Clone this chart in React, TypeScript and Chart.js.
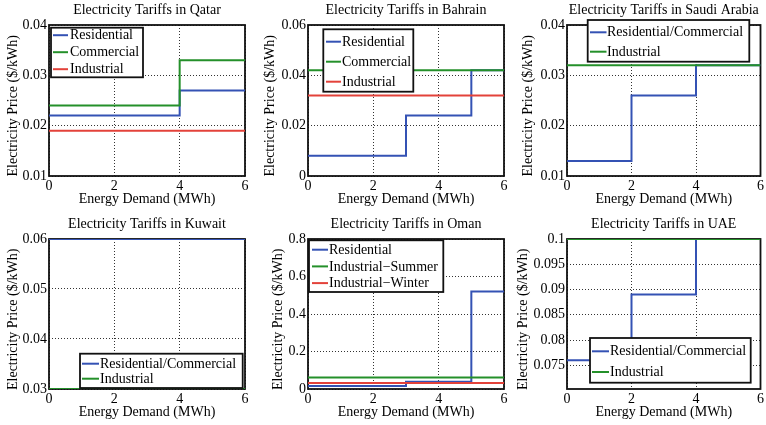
import { useEffect, useRef } from "react";
import { Chart, registerables } from "chart.js";

Chart.register(...registerables);

const FONT_FAMILY = '"Liberation Serif", "Times New Roman", serif';
const BLUE = "#3452b4";
const GREEN = "#24902a";
const RED = "#e3423a";
const GRID = "#333333";

const xTicks = [0, 2, 4, 6];
const flatDemand = [0, 6];

// Qatar
const qatarDemand = [0, 4, 6];
const qatarResidential = [0.022, 0.027, 0.027];
const qatarCommercial = [0.024, 0.033, 0.033];
const qatarIndustrial = [0.019, 0.019];
const qatarYTicks = [0.01, 0.02, 0.03, 0.04];

// Bahrain
const bahrainDemand = [0, 3, 5, 6];
const bahrainResidential = [0.008, 0.024, 0.042, 0.042];
const bahrainCommercial = [0.042, 0.042];
const bahrainIndustrial = [0.032, 0.032];
const bahrainYTicks = [0, 0.02, 0.04, 0.06];

// Saudi Arabia
const saudiDemand = [0, 2, 4, 6];
const saudiResCom = [0.013, 0.026, 0.032, 0.032];
const saudiIndustrial = [0.032, 0.032];
const saudiYTicks = [0.01, 0.02, 0.03, 0.04];

// Kuwait
const kuwaitResCom = [0.06, 0.06];
const kuwaitIndustrial = [0.03, 0.03];
const kuwaitYTicks = [0.03, 0.04, 0.05, 0.06];

// Oman
const omanDemand = [0, 3, 5, 6];
const omanResidential = [0.016, 0.039, 0.52, 0.52];
const omanIndustrialSummer = [0.062, 0.062];
const omanIndustrialWinter = [0.032, 0.032];
const omanYTicks = [0, 0.2, 0.4, 0.6, 0.8];

// UAE
const uaeDemand = [0, 2, 4, 6];
const uaeResCom = [0.076, 0.089, 0.103, 0.103];
const uaeIndustrial = [0.1, 0.1];
const uaeYTicks = [0.075, 0.08, 0.085, 0.09, 0.095, 0.1];

type Series = { label: string; color: string; x: number[]; y: number[] };
type LegendSpec = {
  x: number; y: number; w: number; h: number;
  row0: number; gap: number; line1: number; line2: number; text: number;
};
type Panel = {
  title: string;
  left: number; top: number; width: number; height: number;
  axisW: number; padRight: number;
  titlePad: { top: number; bottom: number };
  yTitleOffset: number;
  yMin: number; yMax: number; yTicks: number[];
  series: Series[];
  legend: LegendSpec;
};

const TOP_TITLE_PAD = { top: 1.6, bottom: 6.6 };
const BOTTOM_TITLE_PAD = { top: 4, bottom: 6.2 };

const panels: Panel[] = [
  {
    title: "Electricity Tariffs in Qatar",
    left: 0, top: 0, width: 255, height: 212, axisW: 49, padRight: 10,
    titlePad: TOP_TITLE_PAD, yTitleOffset: 4.6,
    yMin: 0.01, yMax: 0.04, yTicks: qatarYTicks,
    series: [
      { label: "Residential", color: BLUE, x: qatarDemand, y: qatarResidential },
      { label: "Commercial", color: GREEN, x: qatarDemand, y: qatarCommercial },
      { label: "Industrial", color: RED, x: flatDemand, y: qatarIndustrial },
    ],
    legend: { x: 51, y: 27.7, w: 92, h: 49.6, row0: 35.2, gap: 17, line1: 53, line2: 68, text: 70 },
  },
  {
    title: "Electricity Tariffs in Bahrain",
    left: 255, top: 0, width: 255, height: 212, axisW: 53, padRight: 6,
    titlePad: TOP_TITLE_PAD, yTitleOffset: 6.6,
    yMin: 0, yMax: 0.06, yTicks: bahrainYTicks,
    series: [
      { label: "Residential", color: BLUE, x: bahrainDemand, y: bahrainResidential },
      { label: "Commercial", color: GREEN, x: flatDemand, y: bahrainCommercial },
      { label: "Industrial", color: RED, x: flatDemand, y: bahrainIndustrial },
    ],
    legend: { x: 68.3, y: 29.3, w: 90, h: 62.4, row0: 41.7, gap: 20, line1: 71, line2: 86, text: 87 },
  },
  {
    title: "Electricity Tariffs in Saudi Arabia",
    left: 510, top: 0, width: 256, height: 212, axisW: 57, padRight: 3,
    titlePad: TOP_TITLE_PAD, yTitleOffset: 9.6,
    yMin: 0.01, yMax: 0.04, yTicks: saudiYTicks,
    series: [
      { label: "Residential/Commercial", color: BLUE, x: saudiDemand, y: saudiResCom },
      { label: "Industrial", color: GREEN, x: flatDemand, y: saudiIndustrial },
    ],
    legend: { x: 77.7, y: 20, w: 161.6, h: 41.7, row0: 32.3, gap: 19.4, line1: 80, line2: 96.5, text: 97 },
  },
  {
    title: "Electricity Tariffs in Kuwait",
    left: 0, top: 212, width: 255, height: 213, axisW: 49, padRight: 10,
    titlePad: BOTTOM_TITLE_PAD, yTitleOffset: 4.6,
    yMin: 0.03, yMax: 0.06, yTicks: kuwaitYTicks,
    series: [
      { label: "Residential/Commercial", color: BLUE, x: flatDemand, y: kuwaitResCom },
      { label: "Industrial", color: GREEN, x: flatDemand, y: kuwaitIndustrial },
    ],
    legend: { x: 80, y: 141.7, w: 162.7, h: 34.3, row0: 151.7, gap: 15, line1: 82, line2: 99, text: 100 },
  },
  {
    title: "Electricity Tariffs in Oman",
    left: 255, top: 212, width: 255, height: 213, axisW: 53, padRight: 6,
    titlePad: BOTTOM_TITLE_PAD, yTitleOffset: 14.6,
    yMin: 0, yMax: 0.8, yTicks: omanYTicks,
    series: [
      { label: "Residential", color: BLUE, x: omanDemand, y: omanResidential },
      { label: "Industrial\u2212Summer", color: GREEN, x: flatDemand, y: omanIndustrialSummer },
      { label: "Industrial\u2212Winter", color: RED, x: flatDemand, y: omanIndustrialWinter },
    ],
    legend: { x: 54, y: 28.3, w: 134.3, h: 51.7, row0: 37.7, gap: 16.7, line1: 57, line2: 73, text: 74 },
  },
  {
    title: "Electricity Tariffs in UAE",
    left: 510, top: 212, width: 256, height: 213, axisW: 57, padRight: 3,
    titlePad: BOTTOM_TITLE_PAD, yTitleOffset: 4.6,
    yMin: 0.0703, yMax: 0.1, yTicks: uaeYTicks,
    series: [
      { label: "Residential/Commercial", color: BLUE, x: uaeDemand, y: uaeResCom },
      { label: "Industrial", color: GREEN, x: flatDemand, y: uaeIndustrial },
    ],
    legend: { x: 80, y: 126, w: 160.7, h: 44.7, row0: 139.3, gap: 20.7, line1: 82, line2: 99, text: 100 },
  },
];

const font = { family: FONT_FAMILY, size: 14, weight: "normal" as const };

const framePlugin = {
  id: "frame",
  beforeDatasetsDraw(chart: any) {
    const { left, top, right, bottom } = chart.chartArea;
    const ctx = chart.ctx;
    ctx.save();
    ctx.strokeStyle = "#111";
    ctx.lineWidth = 1.8;
    ctx.setLineDash([]);
    ctx.strokeRect(left, top, right - left, bottom - top);
    ctx.restore();
  },
};

const boxLegendPlugin = {
  id: "boxLegend",
  afterDatasetsDraw(chart: any, _args: any, opts: any) {
    if (!opts || opts.w === undefined) return;
    const ctx = chart.ctx;
    ctx.save();
    ctx.fillStyle = "#fff";
    ctx.fillRect(opts.x, opts.y, opts.w, opts.h);
    ctx.strokeStyle = "#111";
    ctx.lineWidth = 1.8;
    ctx.strokeRect(opts.x, opts.y, opts.w, opts.h);
    ctx.font = `14px ${FONT_FAMILY}`;
    ctx.textBaseline = "middle";
    ctx.textAlign = "left";
    chart.data.datasets.forEach((ds: any, i: number) => {
      const y = opts.row0 + i * opts.gap;
      ctx.strokeStyle = ds.borderColor;
      ctx.lineWidth = 2;
      ctx.beginPath();
      ctx.moveTo(opts.line1, y);
      ctx.lineTo(opts.line2, y);
      ctx.stroke();
      ctx.fillStyle = "#000";
      ctx.fillText(ds.label, opts.text, y + 0.5);
    });
    ctx.restore();
  },
};

function PanelChart({ p }: { p: Panel }) {
  const ref = useRef<HTMLCanvasElement>(null);
  useEffect(() => {
    if (!ref.current) return;
    const chart = new Chart(ref.current, {
      type: "line",
      data: {
        datasets: p.series.map((s, i) => ({
          label: s.label,
          data: s.x.map((x, j) => ({ x, y: s.y[j] })),
          borderColor: s.color,
          backgroundColor: s.color,
          borderWidth: 2,
          pointRadius: 0,
          stepped: "before" as const,
          fill: false,
          order: -i,
        })),
      },
      options: {
        animation: false,
        responsive: false,
        events: [],
        layout: { padding: { left: 0, right: p.padRight, top: 0, bottom: 0 } },
        plugins: {
          legend: { display: false },
          tooltip: { enabled: false },
          title: {
            display: true,
            text: p.title,
            color: "#000",
            font,
            padding: p.titlePad,
            fullSize: false,
          },
          boxLegend: p.legend,
        } as any,
        scales: {
          x: {
            type: "linear",
            min: 0,
            max: 6,
            afterBuildTicks: (s: any) => {
              s.ticks = xTicks.map((v) => ({ value: v }));
            },
            afterFit: (s: any) => {
              s.height = 36;
            },
            grid: { color: GRID, lineWidth: 1, drawTicks: false },
            border: { display: false, dash: [1, 2] },
            ticks: {
              color: "#000",
              font,
              padding: 2,
              maxRotation: 0,
              autoSkip: false,
              callback: (v: any) => String(v),
            },
            title: {
              display: true,
              text: "Energy Demand (MWh)",
              color: "#000",
              font,
              padding: { top: 0, bottom: 4.6 },
            },
          },
          y: {
            type: "linear",
            min: p.yMin,
            max: p.yMax,
            afterBuildTicks: (s: any) => {
              s.ticks = p.yTicks.map((v) => ({ value: v }));
            },
            afterFit: (s: any) => {
              s.width = p.axisW;
            },
            grid: { color: GRID, lineWidth: 1, drawTicks: false },
            border: { display: false, dash: [1, 2] },
            ticks: {
              color: "#000",
              font,
              padding: 2,
              autoSkip: false,
              callback: (v: any) => String(v),
            },
            title: {
              display: true,
              text: "Electricity Price ($/kWh)   ",
              color: "#000",
              font,
              padding: { top: p.yTitleOffset, bottom: 0 },
            },
          },
        },
      } as any,
      plugins: [framePlugin, boxLegendPlugin],
    });
    return () => chart.destroy();
  }, [p]);
  return (
    <canvas
      ref={ref}
      width={p.width}
      height={p.height}
      style={{ position: "absolute", left: p.left, top: p.top, width: p.width, height: p.height }}
    />
  );
}

export default function App() {
  return (
    <div style={{ position: "absolute", left: 0, top: 0, width: 766, height: 425, background: "#fff" }}>
      {panels.map((p) => (
        <PanelChart key={p.title} p={p} />
      ))}
    </div>
  );
}
